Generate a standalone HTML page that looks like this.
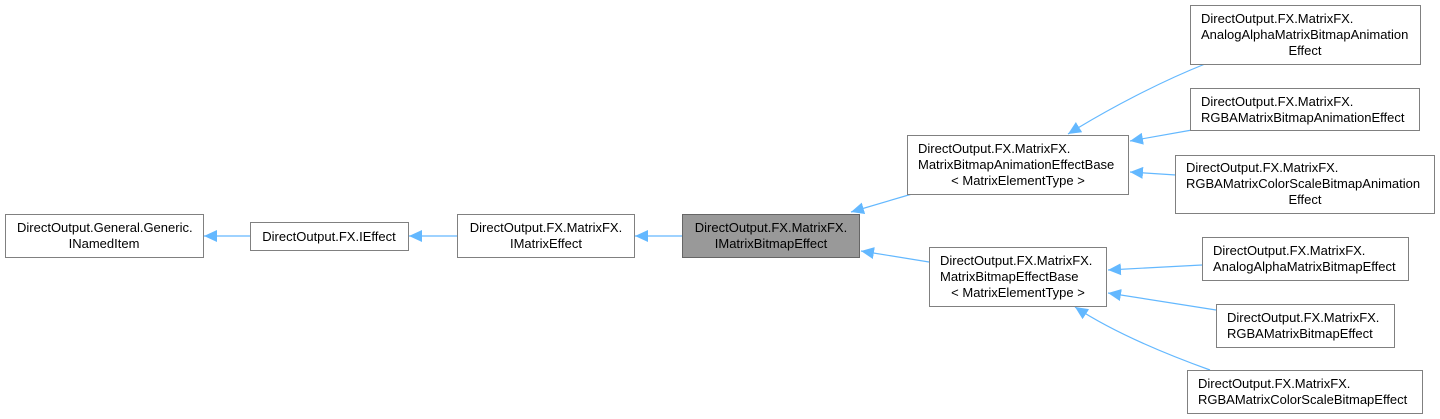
<!DOCTYPE html>
<html><head><meta charset="utf-8"><style>
html,body{margin:0;padding:0;background:#fff;width:1440px;height:419px;overflow:hidden}
text{font-family:"Liberation Sans",Arial,sans-serif;font-size:13px;fill:#000}
</style></head><body>
<svg width="1440" height="419" viewBox="0 0 1440 419" xmlns="http://www.w3.org/2000/svg">
<defs>
<marker id="a" markerUnits="userSpaceOnUse" markerWidth="14" markerHeight="12" refX="13" refY="6" orient="auto">
<path d="M0,0 L13,6 L0,12 z" fill="#63b8ff"/>
</marker>
</defs>
<g stroke="#63b8ff" stroke-width="1.2" fill="none" marker-end="url(#a)">
<path d="M250,236 L204,236"/>
<path d="M457,236 L409,236"/>
<path d="M682,236 L635,236"/>
<path d="M912,194 L851,212"/>
<path d="M929,262 L861,251"/>
<path d="M1205,64 C1160,82 1110,108 1068,134"/>
<path d="M1192,130 L1130,141"/>
<path d="M1176,175 L1130,172"/>
<path d="M1202,265 L1108,270"/>
<path d="M1216,310 L1108,293"/>
<path d="M1210,370 C1160,352 1110,330 1075,307"/>
</g>
<g stroke="#808080" stroke-width="1" fill="#fff">
<rect x="5.5" y="214.5" width="198" height="43"/>
<rect x="250.5" y="222.5" width="158" height="28"/>
<rect x="457.5" y="214.5" width="177" height="43"/>
<rect x="682.5" y="214.5" width="177" height="43" fill="#999999" stroke="#666"/>
<rect x="907.5" y="135.5" width="221" height="59"/>
<rect x="929.5" y="247.5" width="177" height="59"/>
<rect x="1190.5" y="5.5" width="230" height="59"/>
<rect x="1190.5" y="88.5" width="229" height="42"/>
<rect x="1175.5" y="155.5" width="259" height="58"/>
<rect x="1202.5" y="237.5" width="206" height="43"/>
<rect x="1216.5" y="304.5" width="178" height="43"/>
<rect x="1187.5" y="370.5" width="235" height="43"/>
</g>
<g>
<text x="17" y="232">DirectOutput.General.Generic.</text>
<text x="918" y="153">DirectOutput.FX.MatrixFX.</text><text x="918" y="169">MatrixBitmapAnimationEffectBase</text>
<text x="940" y="265">DirectOutput.FX.MatrixFX.</text><text x="940" y="281">MatrixBitmapEffectBase</text>
<text x="1201" y="23">DirectOutput.FX.MatrixFX.</text><text x="1201" y="39">AnalogAlphaMatrixBitmapAnimation</text>
<text x="1201" y="106">DirectOutput.FX.MatrixFX.</text><text x="1201" y="122">RGBAMatrixBitmapAnimationEffect</text>
<text x="1186" y="172">DirectOutput.FX.MatrixFX.</text><text x="1186" y="188">RGBAMatrixColorScaleBitmapAnimation</text>
<text x="1213" y="255">DirectOutput.FX.MatrixFX.</text><text x="1213" y="271">AnalogAlphaMatrixBitmapEffect</text>
<text x="1227" y="322">DirectOutput.FX.MatrixFX.</text><text x="1227" y="338">RGBAMatrixBitmapEffect</text>
<text x="1198" y="388">DirectOutput.FX.MatrixFX.</text><text x="1198" y="404">RGBAMatrixColorScaleBitmapEffect</text>
</g>
<g text-anchor="middle">
<text x="104" y="248">INamedItem</text>
<text x="329" y="241">DirectOutput.FX.IEffect</text>
<text x="546" y="232">DirectOutput.FX.MatrixFX.</text><text x="546" y="248">IMatrixEffect</text>
<text x="771" y="232">DirectOutput.FX.MatrixFX.</text><text x="771" y="248">IMatrixBitmapEffect</text>
<text x="1018" y="185">&lt; MatrixElementType &gt;</text>
<text x="1018" y="297">&lt; MatrixElementType &gt;</text>
<text x="1305" y="55">Effect</text>
<text x="1305" y="204">Effect</text>
</g>
</svg>
</body></html>
